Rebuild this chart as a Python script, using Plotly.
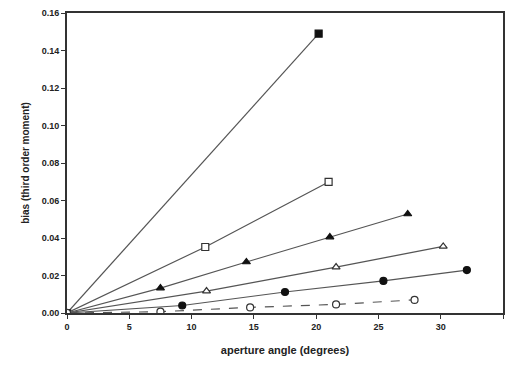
import plotly.graph_objects as go

# Aperture angle (degrees) and bias (third order moment) for each curve
x_fsq = [0, 20.2]
y_fsq = [0, 0.149]

x_osq = [0, 11.1, 21.0]
y_osq = [0, 0.0352, 0.0699]

x_ftri = [0, 7.5, 14.4, 21.1, 27.35]
y_ftri = [0, 0.0133, 0.0272, 0.0405, 0.0528]

x_otri = [0, 11.2, 21.6, 30.2]
y_otri = [0, 0.0117, 0.0245, 0.0355]

x_fcirc = [0, 9.25, 17.5, 25.4, 32.1]
y_fcirc = [0, 0.0040, 0.0112, 0.0171, 0.0229]

x_ocirc = [0, 7.5, 14.7, 21.6, 27.9]
y_ocirc = [0, 0.0007, 0.0030, 0.0046, 0.0070]

x_ticks = [0, 5, 10, 15, 20, 25, 30, 35]
y_ticks = [0.00, 0.02, 0.04, 0.06, 0.08, 0.10, 0.12, 0.14, 0.16]

LINE = "#555555"
FONT = dict(family="Liberation Sans, Arial, sans-serif", size=9, color="#222222", weight="bold")

# (x, y, symbol, fill colour, outline colour, line dash)
series = [
    (x_fsq, y_fsq, "square", "#111111", "#111111", "solid"),
    (x_osq, y_osq, "square", "white", "#333333", "solid"),
    (x_ftri, y_ftri, "triangle-up", "#111111", "#111111", "solid"),
    (x_otri, y_otri, "triangle-up", "white", "#333333", "solid"),
    (x_fcirc, y_fcirc, "circle", "#111111", "#111111", "solid"),
    (x_ocirc, y_ocirc, "circle", "white", "#333333", "dash"),
]

fig = go.Figure()
for xs, ys, sym, fill, edge, dash in series:
    fig.add_trace(go.Scatter(
        x=xs, y=ys, mode="lines+markers",
        line=dict(color=LINE, width=1.2, dash=dash),
        marker=dict(symbol=sym, size=7, color=fill, line=dict(color=edge, width=1.2)),
        showlegend=False,
    ))

axis_common = dict(
    showgrid=False, zeroline=False, showline=True, linecolor="#333333", linewidth=2,
    mirror=True, ticks="outside", ticklen=4, tickwidth=1, tickcolor="#333333",
    tickfont=FONT,
)

fig.update_xaxes(range=[0, 35], tickvals=x_ticks, ticktext=[str(v) for v in x_ticks],
                 title=dict(text="aperture angle (degrees)", font=dict(FONT, size=11), standoff=16),
                 **axis_common)
fig.update_yaxes(range=[0, 0.16], tickvals=y_ticks, ticktext=[f"{v:.2f}" for v in y_ticks],
                 title=dict(text="bias (third order moment)", font=dict(FONT, size=10), standoff=10),
                 **axis_common)

fig.update_layout(
    width=508, height=365,
    margin=dict(l=67, r=3, t=13, b=52),
    paper_bgcolor="white", plot_bgcolor="white",
)

fig.write_html("out.html")
